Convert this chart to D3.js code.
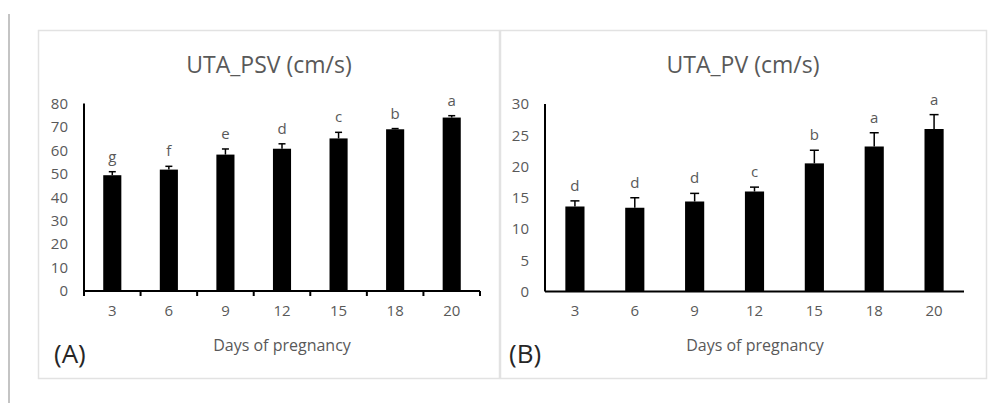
<!DOCTYPE html>
<html>
<head>
<meta charset="utf-8">
<script src="https://cdn.jsdelivr.net/npm/d3@7"></script>
<style>
  html, body { margin: 0; padding: 0; background: #fff; }
  svg { display: block; }
  text { font-family: "Open Sans", "Noto Sans", sans-serif; }
</style>
</head>
<body>
<svg id="chart" width="1000" height="403"></svg>
<script>
// ---- data ----
const days = ["3", "6", "9", "12", "15", "18", "20"];

const psvMeans   = [49.4, 51.8, 58.2, 60.7, 65.1, 69.0, 74.0];
const psvErrors  = [1.5, 1.4, 2.4, 2.1, 2.6, 0.3, 0.8];
const psvLetters = ["g", "f", "e", "d", "c", "b", "a"];
const psvTicks   = [0, 10, 20, 30, 40, 50, 60, 70, 80];

const pvMeans    = [13.6, 13.4, 14.4, 16.0, 20.5, 23.2, 26.0];
const pvErrors   = [0.9, 1.6, 1.3, 0.7, 2.1, 2.2, 2.3];
const pvLetters  = ["d", "d", "d", "c", "b", "a", "a"];
const pvTicks    = [0, 5, 10, 15, 20, 25, 30];

const panelTitles = ["UTA_PSV (cm/s)", "UTA_PV (cm/s)"];
const panelTags   = ["(A)", "(B)"];
const xTitle      = "Days of pregnancy";

// ---- drawing ----
const svg = d3.select("#chart");
const textGray = "#595959";

// outer left rule
svg.append("line").attr("x1", 9).attr("x2", 9).attr("y1", 14).attr("y2", 403)
  .attr("stroke", "#c4c4c4").attr("stroke-width", 2);

const panels = [
  { frame: [38, 30, 500, 379], x0: 84, x1: 480, yTop: 103.5, yBot: 291,
    means: psvMeans, errs: psvErrors, letters: psvLetters, ticks: psvTicks,
    max: 80, title: panelTitles[0], tag: panelTags[0], xTicks: true, cap: 7,
    titleX: 269, axisTitleX: 282, tagX: 54 },
  { frame: [500, 30, 987, 379], x0: 545, x1: 964, yTop: 104, yBot: 291.5,
    means: pvMeans, errs: pvErrors, letters: pvLetters, ticks: pvTicks,
    max: 30, title: panelTitles[1], tag: panelTags[1], xTicks: false, cap: 9,
    titleX: 743, axisTitleX: 755, tagX: 509 }
];

panels.forEach(p => {
  const g = svg.append("g");
  const [fx0, fy0, fx1, fy1] = p.frame;
  g.append("rect").attr("x", fx0 + 0.5).attr("y", fy0 + 0.5)
    .attr("width", fx1 - fx0 - 1).attr("height", fy1 - fy0 - 1)
    .attr("fill", "none").attr("stroke", "#e2e2e2").attr("stroke-width", 1.5);

  const x = d3.scaleBand().domain(days).range([p.x0, p.x1])
    .paddingInner(0.68).paddingOuter(0.34);
  const y = d3.scaleLinear().domain([0, p.max]).range([p.yBot, p.yTop]);

  // title
  g.append("text").attr("x", p.titleX).attr("y", 73)
    .attr("text-anchor", "middle").attr("font-size", 23).attr("fill", textGray)
    .text(p.title);

  // y axis tick labels (no tick marks)
  const yAxis = d3.axisLeft(y).tickValues(p.ticks).tickSize(0).tickPadding(16);
  const ya = g.append("g").attr("transform", `translate(${p.x0},0)`).call(yAxis);
  ya.select(".domain").remove();
  ya.selectAll("text").attr("font-size", 15).attr("fill", textGray)
    .attr("font-family", '"Open Sans", sans-serif');

  // bars
  g.selectAll("rect.bar").data(p.means).join("rect").attr("class", "bar")
    .attr("x", (d, i) => x(days[i]))
    .attr("width", x.bandwidth())
    .attr("y", d => y(d))
    .attr("height", d => y(0) - y(d))
    .attr("fill", "#000");

  // error bars
  p.means.forEach((m, i) => {
    const cx = x(days[i]) + x.bandwidth() / 2;
    const top = y(m + p.errs[i]);
    g.append("line").attr("x1", cx).attr("x2", cx).attr("y1", y(m)).attr("y2", top)
      .attr("stroke", "#000").attr("stroke-width", 1.5);
    g.append("line").attr("x1", cx - p.cap / 2).attr("x2", cx + p.cap / 2)
      .attr("y1", top).attr("y2", top).attr("stroke", "#000").attr("stroke-width", 1.5);
    g.append("text").attr("x", cx).attr("y", top - 10)
      .attr("text-anchor", "middle").attr("font-size", 15).attr("fill", textGray)
      .text(p.letters[i]);
  });

  // y axis line
  g.append("line").attr("x1", p.x0).attr("x2", p.x0).attr("y1", p.yTop).attr("y2", p.yBot)
    .attr("stroke", "#000").attr("stroke-width", 2);

  // x axis
  const xAxis = d3.axisBottom(x).tickSize(0).tickPadding(14);
  const xa = g.append("g").attr("transform", `translate(0,${p.yBot})`).call(xAxis);
  xa.select(".domain").attr("stroke", "#000").attr("stroke-width", 2.2)
    .attr("d", `M${p.x0},0H${p.x1}`);
  xa.selectAll("text").attr("font-size", 15).attr("fill", textGray)
    .attr("font-family", '"Open Sans", sans-serif');
  if (p.xTicks) {
    const bounds = days.map(d => x(d) - x.step() * x.paddingInner() / 2 - x.step() * 0.0);
    const edges = d3.range(days.length + 1).map(i => p.x0 + i * (p.x1 - p.x0) / days.length);
    xa.selectAll("line.edge").data(edges).join("line").attr("class", "edge")
      .attr("x1", d => d).attr("x2", d => d).attr("y1", 0).attr("y2", 5)
      .attr("stroke", "#000").attr("stroke-width", 2);
  }

  // axis title
  g.append("text").attr("x", p.axisTitleX).attr("y", 351)
    .attr("text-anchor", "middle").attr("font-size", 16).attr("fill", textGray)
    .text(xTitle);

  // panel tag
  g.append("text").attr("x", p.tagX).attr("y", 363)
    .attr("font-size", 26).attr("fill", "#262626")
    .text(p.tag);
});
</script>
</body>
</html>
